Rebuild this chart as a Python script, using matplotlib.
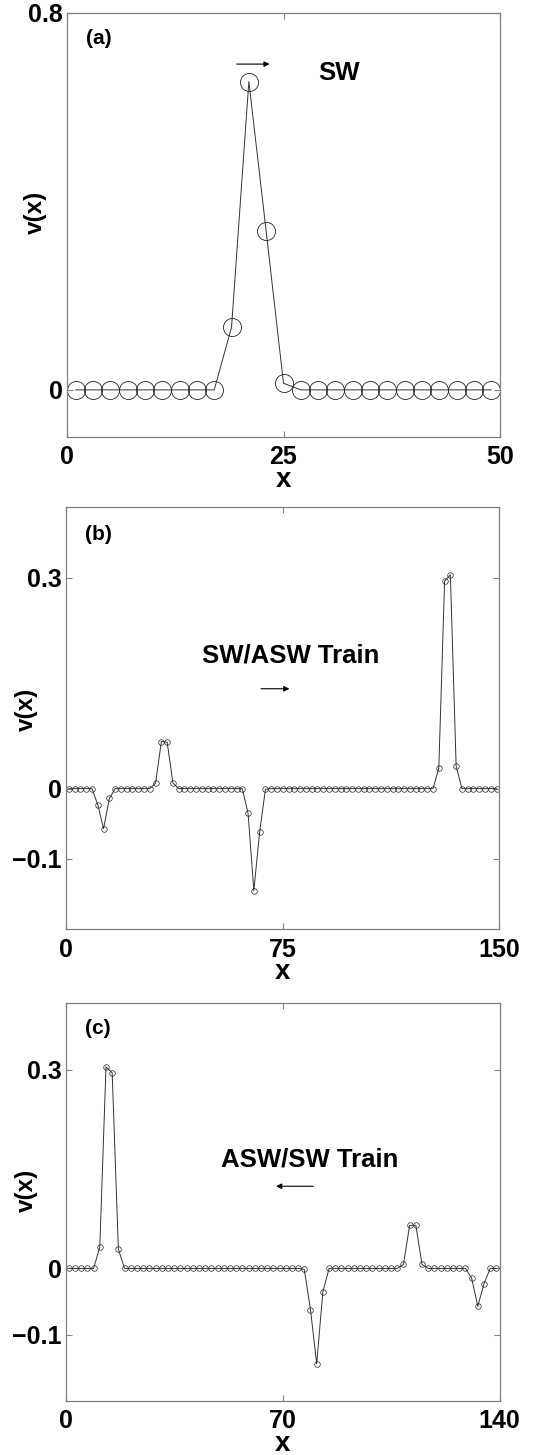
import numpy as np
import matplotlib
matplotlib.use("Agg")
import matplotlib.pyplot as plt

plt.rcParams['font.family'] = ['Liberation Sans', 'DejaVu Sans']
plt.rcParams['font.weight'] = 'bold'

# ---------------- data ----------------
x_a = list(range(1, 50, 2))
v_a = [0, 0, 0, 0, 0, 0, 0, 0, 0, 0.133, 0.654, 0.336, 0.014,
       0, 0, 0, 0, 0, 0, 0, 0, 0, 0, 0, 0]

x_b = list(range(1, 150, 2))
v_b = [0, 0, 0, 0, 0, -0.023, -0.057, -0.014, 0, 0,
       0, 0, 0, 0, 0, 0.008, 0.067, 0.066, 0.008, 0,
       0, 0, 0, 0, 0, 0, 0, 0, 0, 0,
       0, -0.035, -0.145, -0.062, -0.001, 0, 0, 0, 0, 0,
       0, 0, 0, 0, 0, 0, 0, 0, 0, 0,
       0, 0, 0, 0, 0, 0, 0, 0, 0, 0,
       0, 0, 0, 0, 0.029, 0.295, 0.304, 0.032, 0, 0,
       0, 0, 0, 0, 0]

x_c = list(range(1, 140, 2))
v_c = [0, 0, 0, 0, 0, 0.032, 0.304, 0.295, 0.029, 0,
       0, 0, 0, 0, 0, 0, 0, 0, 0, 0,
       0, 0, 0, 0, 0, 0, 0, 0, 0, 0,
       0, 0, 0, 0, 0, 0, 0, 0, -0.0015, -0.062,
       -0.144, -0.035, 0, 0, 0, 0, 0, 0, 0, 0,
       0, 0, 0, 0, 0.006, 0.065, 0.065, 0.006, 0, 0,
       0, 0, 0, 0, 0, -0.0145, -0.057, -0.023, 0, 0]

xticks_a = [0, 25, 50]
yticks_a = [0, 0.8]
xticks_b = [0, 75, 150]
yticks_b = [-0.1, 0, 0.3]
xticks_c = [0, 70, 140]
yticks_c = [-0.1, 0, 0.3]

# ---------------- figure ----------------
W, H = 533, 1455
fig = plt.figure(figsize=(W / 100, H / 100), dpi=100)

def px_axes(left, right, top, bottom):
    return fig.add_axes([left / W, 1 - bottom / H, (right - left) / W, (bottom - top) / H])

ax_a = px_axes(67, 500, 12.7, 437)
ax_b = px_axes(66, 499.5, 507.3, 929.3)
ax_c = px_axes(65.7, 499.5, 1003.3, 1401)

spine_col = '#808080'
line_col = '#333333'
TICK_FS = 18
XLAB_FS = 20
YLAB_FS = 17.5

def style(ax, xlim, ylim, xt, yt, xlab_y, ylab_xy):
    ax.set_xlim(*xlim)
    ax.set_ylim(*ylim)
    ax.set_xticks(xt)
    ax.set_yticks(yt)
    ax.set_xticklabels([f"{t:g}" for t in xt], fontsize=TICK_FS, fontweight='bold')
    ax.set_yticklabels([("\u2212" + f"{-t:g}") if t < 0 else f"{t:g}" for t in yt],
                       fontsize=TICK_FS, fontweight='bold')
    for s in ax.spines.values():
        s.set_color(spine_col)
        s.set_linewidth(0.9)
    ax.tick_params(direction='in', length=4, width=0.8, color=spine_col,
                   top=True, right=True)
    ax.tick_params(axis='x', pad=6)
    ax.tick_params(axis='y', pad=3)
    ax.set_xlabel('x', fontsize=XLAB_FS, fontweight='bold', va='center')
    ax.xaxis.set_label_coords(0.5, xlab_y)
    ax.set_ylabel('v(x)', fontsize=YLAB_FS, fontweight='bold', va='center')
    ax.yaxis.set_label_coords(*ylab_xy)

arrow_kw = dict(arrowstyle='-|>', color='black', lw=0.8,
                mutation_scale=8, shrinkA=0, shrinkB=0)

# (a)
ax_a.plot(x_a, v_a, '-', color=line_col, lw=0.7, marker='o', ms=13,
          mfc='none', mec='#222222', mew=0.6)
style(ax_a, (0, 50), (-0.1, 0.8), xticks_a, yticks_a, -0.101, (-0.074, 0.53))
ax_a.text(3.7, 0.745, '(a)', fontsize=15, fontweight='bold', ha='center', va='center')
ax_a.text(31.4, 0.672, 'SW', fontsize=18.5, fontweight='bold', ha='center', va='center')
ax_a.annotate('', xy=(23.4, 0.691), xytext=(19.6, 0.691), arrowprops=arrow_kw)

# (b)
ax_b.plot(x_b, v_b, '-', color=line_col, lw=0.7, marker='o', ms=4,
          mfc='none', mec='#222222', mew=0.5)
style(ax_b, (0, 150), (-0.2, 0.4), xticks_b, yticks_b, -0.102, (-0.092, 0.522))
ax_b.text(11.2, 0.361, '(b)', fontsize=15, fontweight='bold', ha='center', va='center')
ax_b.text(77.6, 0.189, 'SW/ASW Train', fontsize=18.5, fontweight='bold',
          ha='center', va='center')
ax_b.annotate('', xy=(77.3, 0.142), xytext=(67.5, 0.142), arrowprops=arrow_kw)

# (c)
ax_c.plot(x_c, v_c, '-', color=line_col, lw=0.7, marker='o', ms=4,
          mfc='none', mec='#222222', mew=0.5)
style(ax_c, (0, 140), (-0.2, 0.4), xticks_c, yticks_c, -0.109, (-0.0915, 0.53))
ax_c.text(10.5, 0.362, '(c)', fontsize=15, fontweight='bold', ha='center', va='center')
ax_c.text(78.9, 0.164, 'ASW/SW Train', fontsize=18.5, fontweight='bold',
          ha='center', va='center')
ax_c.annotate('', xy=(67.9, 0.124), xytext=(79.9, 0.124), arrowprops=arrow_kw)

fig.savefig('out.png', dpi=100)
